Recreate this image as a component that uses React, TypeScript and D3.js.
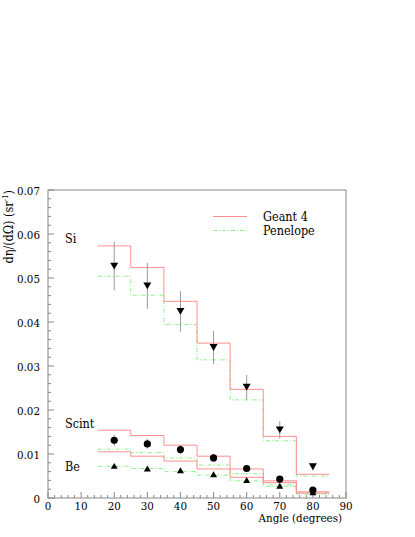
import React from "react";
import * as d3 from "d3";

const binCenters = [20, 30, 40, 50, 60, 70, 80];
const binWidth = 10;

const siGeant = [0.0573, 0.0524, 0.0447, 0.0352, 0.0247, 0.0140, 0.0054];
const siPenelope = [0.0504, 0.0461, 0.0394, 0.0314, 0.0223, 0.0130, 0.0050];
const siData = [0.0527, 0.0482, 0.0424, 0.0342, 0.0252, 0.0155, 0.0071];
const siErr = [0.0055, 0.0052, 0.0046, 0.0038, 0.0028, 0.0020, 0.0008];

const scintGeant = [0.0154, 0.0142, 0.0120, 0.0095, 0.0066, 0.0039, 0.0014];
const scintPenelope = [0.0111, 0.0103, 0.0091, 0.0075, 0.0055, 0.0030, 0.0012];
const scintData = [0.0131, 0.0123, 0.0110, 0.0091, 0.0067, 0.0043, 0.0018];
const scintErr = [0.0013, 0.0011, 0.0010, 0.0009, 0.0007, 0.0005, 0.0003];

const beGeant = [0.0105, 0.0095, 0.0084, 0.0066, 0.0047, 0.0035, 0.0011];
const bePenelope = [0.0072, 0.0067, 0.0060, 0.0052, 0.0039, 0.0026, 0.0009];
const beData = [0.0073, 0.0067, 0.0063, 0.0054, 0.0041, 0.0028, 0.0013];

const xMajorTicks = [0, 10, 20, 30, 40, 50, 60, 70, 80, 90];
const yMajorTicks = [0, 0.01, 0.02, 0.03, 0.04, 0.05, 0.06, 0.07];
const yTickLabels = ["0", "0.01", "0.02", "0.03", "0.04", "0.05", "0.06", "0.07"];

const RED = "#ff8f8f";
const GREEN = "#8cf28c";
const FONT = "'DejaVu Serif Condensed', 'DejaVu Serif', serif";
const TS: React.CSSProperties = { fontFamily: FONT, fontStretch: "condensed" };
const FS = 11.5;

export default function App() {
  const x = d3.scaleLinear().domain([0, 90]).range([48, 346]);
  const y = d3.scaleLinear().domain([0, 0.07]).range([498, 190]);

  const stepPath = (vals: number[]) => {
    const pts: [number, number][] = [];
    vals.forEach((v, i) => {
      pts.push([binCenters[i] - binWidth / 2, v]);
      pts.push([binCenters[i] + binWidth / 2, v]);
    });
    return d3.line<[number, number]>().x((d) => x(d[0])).y((d) => y(d[1]))(pts) || "";
  };

  const xMinor = d3.range(0, 90.001, 2);
  const yMinor = d3.range(0, 0.07001, 0.002);

  const tri = (cx: number, cy: number, down: boolean, s = 4) => {
    const h = s * 1.7;
    if (down)
      return `M${cx - s},${cy - h / 2}L${cx + s},${cy - h / 2}L${cx},${cy + h / 2}Z`;
    return `M${cx - s},${cy + h / 2}L${cx + s},${cy + h / 2}L${cx},${cy - h / 2}Z`;
  };

  const errBars = (vals: number[], errs: number[]) =>
    vals.map((v, i) => (
      <line
        key={i}
        x1={x(binCenters[i])}
        x2={x(binCenters[i])}
        y1={y(v - errs[i])}
        y2={y(v + errs[i])}
        stroke="#999"
        strokeWidth={1}
      />
    ));

  return (
    <svg
      width={415}
      height={537}
      style={{ position: "absolute", left: 0, top: 0, background: "#fff", fontFamily: FONT }}
    >
      <rect x={0} y={0} width={415} height={537} fill="#fff" />
      {/* frame */}
      <rect x={x(0)} y={y(0.07)} width={x(90) - x(0)} height={y(0) - y(0.07)} fill="none" stroke="#888" strokeWidth={1} />

      {/* x ticks */}
      {xMinor.map((t) => (
        <line key={"xm" + t} x1={x(t)} x2={x(t)} y1={y(0)} y2={y(0) - (Math.round(t) % 10 === 0 ? 6 : 3)} stroke="#888" />
      ))}
      {xMajorTicks.map((t) => (
        <text key={"xl" + t} x={x(t)} y={509.5} fontSize={FS} textAnchor="middle" fill="#000" style={TS}>
          {t}
        </text>
      ))}
      {/* y ticks */}
      {yMinor.map((t, i) => (
        <line key={"ym" + i} x1={x(0)} x2={x(0) + (i % 5 === 0 ? 6 : 3)} y1={y(t)} y2={y(t)} stroke="#888" />
      ))}
      {yMajorTicks.map((t, i) => (
        <text key={"yl" + i} x={40} y={y(t) + 4.5} fontSize={FS} textAnchor="end" fill="#000" style={TS}>
          {yTickLabels[i]}
        </text>
      ))}

      {/* axis titles */}
      <text x={342} y={522} fontSize={FS} textAnchor="end" fill="#000" style={TS}>
        Angle (degrees)
      </text>
      <text transform="translate(12.5,190) rotate(-90)" fontSize={12.5} textAnchor="end" fill="#000" style={TS}>
        dη/(dΩ) (sr<tspan dy={-5} fontSize={8}>-1</tspan>
        <tspan dy={5}>)</tspan>
      </text>

      {/* histograms */}
      {[siPenelope, scintPenelope, bePenelope].map((v, i) => (
        <path key={"p" + i} d={stepPath(v)} fill="none" stroke={GREEN} strokeWidth={1} strokeDasharray="4,2,1,2" />
      ))}
      {[siGeant, scintGeant, beGeant].map((v, i) => (
        <path key={"g" + i} d={stepPath(v)} fill="none" stroke={RED} strokeWidth={1} />
      ))}

      {/* error bars */}
      {errBars(siData, siErr)}
      {errBars(scintData, scintErr)}

      {/* markers */}
      {siData.map((v, i) => (
        <path key={"sd" + i} d={tri(x(binCenters[i]), y(v), true)} fill="#000" />
      ))}
      {scintData.map((v, i) => (
        <circle key={"cd" + i} cx={x(binCenters[i])} cy={y(v)} r={3.6} fill="#000" />
      ))}
      {beData.map((v, i) => (
        <path key={"bd" + i} d={tri(x(binCenters[i]), y(v), false, 3.5)} fill="#000" />
      ))}

      {/* labels */}
      <text x={65} y={243} fontSize={12.5} fill="#000" style={TS}>Si</text>
      <text x={65} y={428} fontSize={12.5} fill="#000" style={TS}>Scint</text>
      <text x={65} y={471} fontSize={12.5} fill="#000" style={TS}>Be</text>

      {/* legend */}
      <line x1={213} x2={247} y1={216.5} y2={216.5} stroke={RED} />
      <line x1={213} x2={247} y1={230.5} y2={230.5} stroke={GREEN} strokeDasharray="4,2,1,2" />
      <text x={263} y={220.5} fontSize={12.5} fill="#000" style={TS}>Geant 4</text>
      <text x={263} y={234.5} fontSize={12.5} fill="#000" style={TS}>Penelope</text>
    </svg>
  );
}
